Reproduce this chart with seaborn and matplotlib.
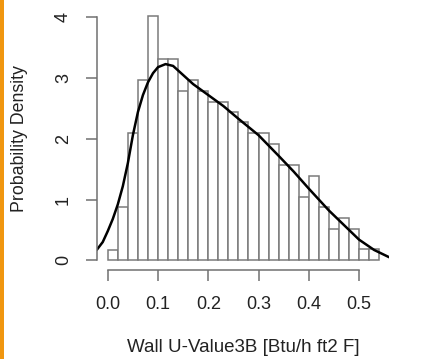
import numpy as np
import pandas as pd
import seaborn as sns
import matplotlib.pyplot as plt
from matplotlib.patches import Rectangle

# ================= data =================
bin_edges = [round(0.02 * i, 2) for i in range(28)]
bin_density = [0.17, 0.87, 2.10, 2.96, 4.02, 3.31, 3.31, 2.79, 2.96, 2.79,
               2.61, 2.61, 2.44, 2.27, 2.10, 2.10, 1.92, 1.57, 1.57, 1.05,
               1.39, 0.88, 0.52, 0.70, 0.52, 0.18, 0.18]

curve_x = [-0.022, -0.01, 0.0, 0.01, 0.02, 0.03, 0.04, 0.05, 0.06, 0.07,
           0.08, 0.09, 0.10, 0.115, 0.13, 0.15, 0.17, 0.20, 0.23, 0.26,
           0.30, 0.34, 0.37, 0.40, 0.44, 0.47, 0.50, 0.53, 0.56]
curve_y = [0.17, 0.30, 0.48, 0.68, 0.92, 1.22, 1.60, 2.06, 2.44, 2.72,
           2.93, 3.08, 3.18, 3.23, 3.20, 3.05, 2.90, 2.72, 2.54, 2.33,
           2.06, 1.72, 1.46, 1.18, 0.82, 0.58, 0.34, 0.17, 0.05]

x_ticks = [0.0, 0.1, 0.2, 0.3, 0.4, 0.5]
y_ticks = [0, 1, 2, 3, 4]

x_label = "Wall U-Value3B [Btu/h ft2 F]"
y_label = "Probability Density"

# ================= plot =================
sns.set_style("white")
plt.rcParams['font.family'] = ['Liberation Sans', 'DejaVu Sans']

fig = plt.figure(figsize=(4.31, 3.59), dpi=100)
ax = fig.add_axes([96.7 / 431, 1 - 270 / 359, (389.2 - 96.7) / 431, (270 - 6.4) / 359])

edges = np.array(bin_edges)
hist_df = pd.DataFrame({
    'x': (edges[:-1] + edges[1:]) / 2,
    'density': bin_density,
})
sns.histplot(data=hist_df, x='x', weights='density', bins=bin_edges, stat='count',
             color='white', edgecolor='#7a7a7a', linewidth=1.1, alpha=1, ax=ax)
sns.lineplot(x=curve_x, y=curve_y, color='black', linewidth=1.8, ax=ax,
             sort=False, estimator=None)

ax.set_xlim(-0.022, 0.56)
ax.set_ylim(-0.16, 4.18)
ax.set_xticks(x_ticks)
ax.set_xticklabels([f"{t:.1f}" for t in x_ticks])
ax.set_yticks(y_ticks)
ax.set_yticklabels([str(t) for t in y_ticks], rotation=90, va='center')

for s in ['top', 'right']:
    ax.spines[s].set_visible(False)
ax.spines['left'].set_bounds(0, 4)
ax.spines['bottom'].set_bounds(0, 0.5)
for s in ['left', 'bottom']:
    ax.spines[s].set_color('#707070')
    ax.spines[s].set_linewidth(1.1)

ax.tick_params(axis='both', which='major', bottom=True, left=True,
               direction='out', length=7.7, width=1.1,
               color='#707070', labelsize=13, labelcolor='#222222')
ax.tick_params(axis='x', pad=11)
ax.tick_params(axis='y', pad=10)
ax.set_xlabel("")
ax.set_ylabel("")
ax.grid(False)

fig.text(243 / 431, 1 - 347 / 359, x_label, ha='center', va='center',
         fontsize=13.5, color='#222222')
fig.text(20 / 431, 1 - 138.3 / 359, y_label, ha='center', va='center',
         rotation=90, fontsize=12.8, color='#222222')

# orange stripe along the left edge
fig.patches.append(Rectangle((0, 0), 4.5 / 431, 1, transform=fig.transFigure,
                             facecolor='#f0960f', edgecolor='none'))

fig.savefig("out.png", dpi=100)
